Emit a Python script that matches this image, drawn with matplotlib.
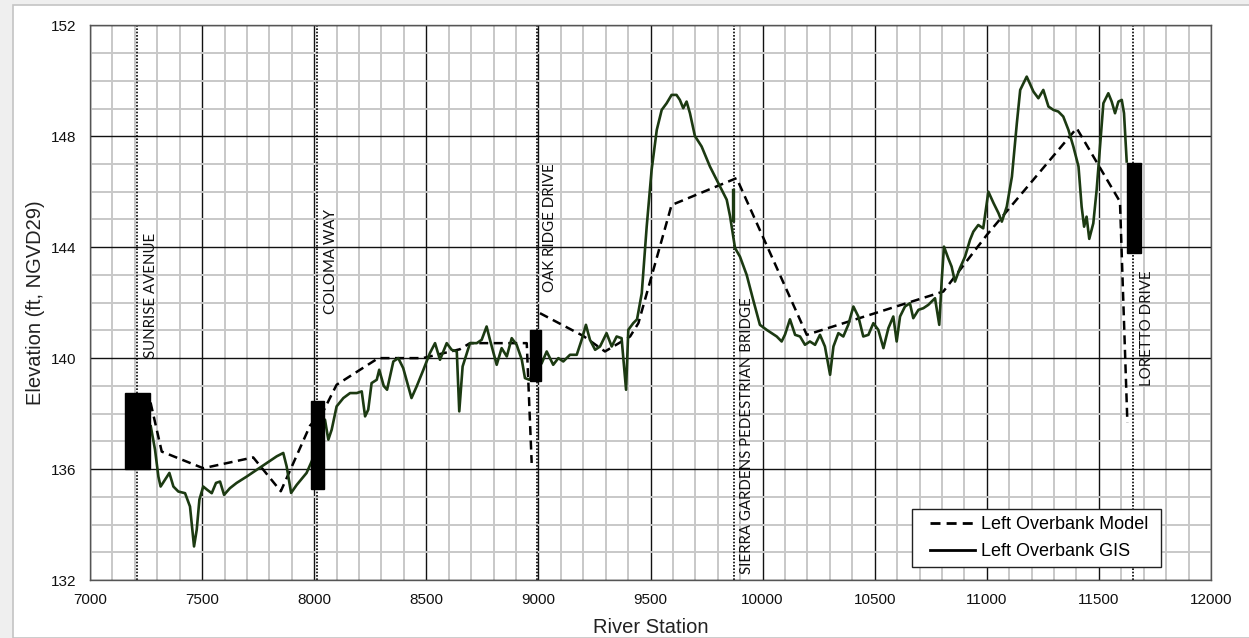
import numpy as np
import matplotlib
matplotlib.use("Agg")
import matplotlib.pyplot as plt
from matplotlib.patches import Rectangle

# Left overbank profile from GIS (station, elevation)
gis_station = [7271, 7290, 7305, 7315, 7334, 7354, 7372, 7394, 7424, 7446, 7464, 7476, 7488, 7505,
               7523, 7543, 7562, 7580, 7598, 7624, 7654, 7699, 7743, 7788, 7833, 7862, 7877, 7897,
               7922, 7966, 7990, 8048, 8063, 8078, 8100, 8130, 8160, 8190, 8212, 8227, 8241, 8256,
               8279, 8290, 8310, 8325, 8353, 8375, 8397, 8434, 8457, 8487, 8516, 8539, 8561, 8591,
               8613, 8636, 8647, 8662, 8695, 8725, 8747, 8769, 8784, 8814, 8836, 8859, 8881, 8903,
               8926, 8940, 8959, 9015, 9037, 9066, 9089, 9111, 9141, 9171, 9193, 9212, 9230, 9253,
               9275, 9304, 9327, 9349, 9371, 9391, 9401, 9423, 9440, 9461, 9483, 9505, 9528, 9550,
               9572, 9594, 9616, 9631, 9646, 9661, 9676, 9698, 9728, 9765, 9810, 9840, 9855, 9877,
               9899, 9929, 9958, 9988, 10018, 10063, 10085, 10100, 10122, 10145, 10167, 10189, 10211,
               10234, 10256, 10278, 10301, 10316, 10338, 10360, 10382, 10405, 10427, 10449, 10472,
               10494, 10516, 10539, 10561, 10583, 10598, 10613, 10635, 10657, 10672, 10695, 10717,
               10739, 10769, 10788, 10799, 10809, 10828, 10843, 10858, 10880, 10903, 10925, 10940,
               10962, 10984, 11007, 11030, 11052, 11067, 11089, 11112, 11134, 11149, 11178, 11208,
               11230, 11252, 11275, 11297, 11319, 11341, 11364, 11386, 11409, 11423, 11434, 11445,
               11457, 11475, 11490, 11505, 11520, 11542, 11557, 11572, 11587, 11602, 11612, 11624]
gis_elev = [137.54, 136.7, 135.73, 135.37, 135.61, 135.86, 135.37, 135.19, 135.13, 134.65, 133.21,
            133.81, 134.9, 135.37, 135.25, 135.13, 135.5, 135.55, 135.07, 135.31, 135.5, 135.73,
            135.97, 136.22, 136.46, 136.58, 136.1, 135.14, 135.43, 135.86, 136.3, 137.78, 137.06,
            137.42, 138.26, 138.56, 138.74, 138.74, 138.8, 137.9, 138.14, 139.1, 139.22, 139.58,
            139.0, 138.86, 139.88, 140.0, 139.64, 138.56, 138.98, 139.58, 140.18, 140.54, 139.94,
            140.54, 140.3, 140.24, 138.08, 139.7, 140.54, 140.54, 140.66, 141.14, 140.66, 139.76,
            140.36, 140.06, 140.72, 140.48, 139.94, 139.28, 139.22, 139.82, 140.24, 139.76, 140.0,
            139.88, 140.12, 140.12, 140.66, 141.2, 140.66, 140.3, 140.42, 140.9, 140.42, 140.78,
            140.72, 138.86, 141.02, 141.26, 141.4, 142.34, 144.74, 146.79, 148.23, 148.95, 149.19,
            149.49, 149.49, 149.31, 149.01, 149.25, 148.83, 148.01, 147.63, 146.91, 146.19, 145.71,
            145.11, 143.97, 143.66, 143.0, 142.1, 141.2, 141.02, 140.78, 140.6, 140.85, 141.4,
            140.84, 140.78, 140.48, 140.6, 140.48, 140.84, 140.42, 139.4, 140.42, 140.9, 140.78,
            141.2, 141.86, 141.5, 140.78, 140.84, 141.26, 141.02, 140.36, 141.08, 141.5, 140.6,
            141.5, 141.86, 141.98, 141.44, 141.74, 141.8, 141.92, 142.16, 141.2, 142.82, 144.02,
            143.6, 143.3, 142.76, 143.24, 143.66, 144.26, 144.56, 144.8, 144.68, 146.0, 145.59,
            145.23, 144.92, 145.46, 146.54, 148.47, 149.67, 150.15, 149.61, 149.37, 149.67, 149.07,
            148.95, 148.89, 148.71, 148.23, 147.63, 146.91, 145.46, 144.74, 145.1, 144.3, 144.86,
            146.07, 147.63, 149.19, 149.55, 149.25, 148.83, 149.25, 149.31, 148.83, 147.09]

# short GIS piece at the pedestrian bridge
gis_spike_station = [9869, 9869]
gis_spike_elev = [146.07, 144.99]

# Left overbank from the model (NaN = break at Oak Ridge Drive)
model_station = [7270, 7320, 7505, 7728, 7851, 7981, 8044, 8100, 8286, 8485, 8650, 8695, 8948,
                 8970, np.nan, 9007, 9200, 9297, 9409, 9446, 9594, 9884, 10197, 10806, 11000,
                 11401, 11594, 11627]
model_elev = [138.4, 136.63, 136.03, 136.42, 135.2, 137.56, 138.14, 139.04, 140.0, 140.0, 140.32,
              140.54, 140.54, 136.22, np.nan, 141.62, 140.8, 140.24, 140.78, 141.26, 145.52,
              146.49, 140.84, 142.4, 144.44, 148.29, 145.64, 137.68]

# bridges
bridge_names = ["SUNRISE AVENUE", "COLOMA WAY", "OAK RIDGE DRIVE",
                "SIERRA GARDENS PEDESTRIAN BRIDGE", "LORETTO DRIVE"]
bridge_station = [7210, 8014, 8993, 9872, 11653]
label_bottom = [140.0, 141.6, 142.4, 132.2, 139.0]

# bridge deck blocks
deck_left = [7156, 7986, 8963, 11624]
deck_right = [7268, 8042, 9010, 11686]
deck_low = [136.0, 135.28, 139.18, 143.78]
deck_high = [138.74, 138.44, 141.02, 147.03]

W, H = 1249, 638
fig = plt.figure(figsize=(W / 100, H / 100), dpi=100, facecolor="#efefef")
fig.patches.append(Rectangle((13 / W, 0), 1.0, 1 - 5 / H, transform=fig.transFigure,
                             facecolor="white", edgecolor="#c4c4c4", linewidth=1.2, zorder=-10))
ax = fig.add_axes([90 / W, 1 - 580 / H, (1211 - 90) / W, (580 - 25.3) / H])
ax.set_facecolor("white")

ax.set_xlim(7000, 12000)
ax.set_ylim(132, 152)
ax.set_xticks(np.arange(7000, 12001, 500))
ax.set_yticks(np.arange(132, 153, 4))
ax.set_xticks(np.arange(7000, 12001, 100), minor=True)
ax.set_yticks(np.arange(132, 153, 1), minor=True)
ax.grid(which="minor", color="#c8c8c8", linewidth=1.4, zorder=0)
ax.grid(which="major", color="#111111", linewidth=1.0, zorder=0.5)
ax.set_axisbelow(True)
ax.tick_params(which="both", length=0)
ax.tick_params(axis="x", pad=9)
ax.tick_params(axis="y", pad=10)
for lab in ax.get_xticklabels() + ax.get_yticklabels():
    lab.set_family("Liberation Sans")
    lab.set_fontsize(11)
    lab.set_color("#111111")
for sp in ax.spines.values():
    sp.set_color("#555555")
    sp.set_linewidth(1.0)

for x in bridge_station:
    ax.axvline(x, color="black", linestyle=(0, (1, 1)), linewidth=1.2, zorder=2)

ax.plot(model_station, model_elev, color="black", linestyle=(0, (3.6, 2.2)), linewidth=1.8,
        zorder=3, label="Left Overbank Model")
ax.plot(gis_station, gis_elev, color="#1c3a12", linewidth=1.9, zorder=4, label="Left Overbank GIS")
ax.plot(gis_spike_station, gis_spike_elev, color="#1c3a12", linewidth=2.4, zorder=4)

ax.bar(deck_left, np.array(deck_high) - np.array(deck_low), width=np.array(deck_right) - np.array(deck_left),
       bottom=deck_low, align="edge", color="black", edgecolor="black", zorder=5)

for name, x, yb in zip(bridge_names, bridge_station, label_bottom):
    ax.text(x + 60, yb, name, rotation=90, ha="center", va="bottom", family="Lato",
            fontsize=10.8, color="#111111", zorder=6)

ax.set_xlabel("River Station", family="Liberation Sans", fontsize=14.5, color="#222222", labelpad=8)
ax.set_ylabel("Elevation (ft, NGVD29)", family="Liberation Sans", fontsize=14.5, color="#222222",
              labelpad=4)

# legend frame drawn separately so the inner padding matches
ax.add_patch(Rectangle(((911.7 - 90) / 1121, (580 - 567.3) / 554.7), 249 / 1121, 58 / 554.7,
                       transform=ax.transAxes, facecolor="white", edgecolor="#222222",
                       linewidth=1.0, zorder=7))
leg = ax.legend(loc="center left", bbox_to_anchor=((930 - 90) / 1121, (580 - 538.2) / 554.7),
                prop={"family": "Liberation Sans", "size": 13}, frameon=False,
                handlelength=2.5, borderpad=0, labelspacing=0.55, handletextpad=0.3, borderaxespad=0)
leg.set_zorder(8)
for ln in leg.get_lines():
    ln.set_color("black")
    ln.set_linewidth(2.0)

fig.savefig("out.png", dpi=100, facecolor=fig.get_facecolor())
